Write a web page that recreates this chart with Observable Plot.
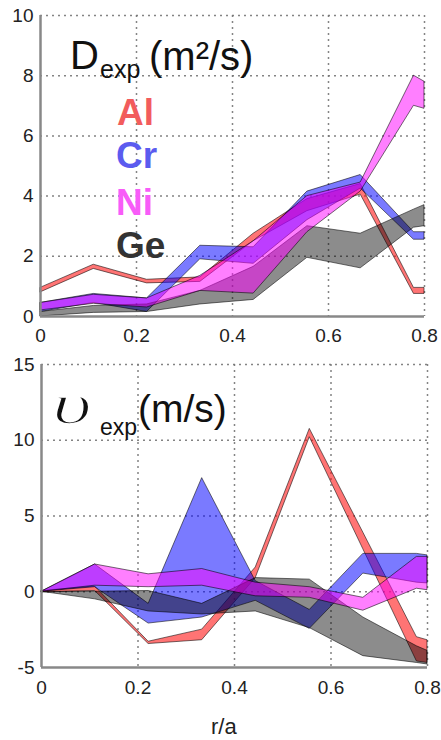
<!DOCTYPE html>
<html><head><meta charset="utf-8">
<script src="https://cdn.jsdelivr.net/npm/d3@7"></script>
<script src="https://cdn.jsdelivr.net/npm/@observablehq/plot@0.6"></script>
<style>
body{margin:0;background:#fff;}
#wrap{position:relative;width:441px;height:740px;overflow:hidden;font-family:"Liberation Sans",Arial,sans-serif;background:#fff;}
#top,#bot{position:absolute;left:0;}
#top{top:0}
#bot{top:348px}
.lab{position:absolute;white-space:nowrap;line-height:1;}
.leg{font-weight:bold;font-size:37px;}
</style></head><body>
<div id="wrap">
<div id="top"></div><div id="bot"></div>
<div class="lab" style="left:70px;top:35px;font-size:40px;color:#111">D</div>
<div class="lab" style="left:100px;top:57px;font-size:25px;color:#111">exp</div>
<div class="lab" style="left:149px;top:36px;font-size:40px;color:#111">(m²/s)</div>
<div class="lab leg" style="left:117px;top:94px;color:#f25c5c">Al</div>
<div class="lab leg" style="left:116px;top:137px;color:#5b5bef">Cr</div>
<div class="lab leg" style="left:116px;top:184px;color:#f85cf8">Ni</div>
<div class="lab leg" style="left:116px;top:227px;color:#333">Ge</div>
<div class="lab" style="left:52px;top:376px;font-size:56px;font-family:'Liberation Serif',serif;font-style:italic;color:#111;-webkit-text-stroke:1.6px #fff;transform:scaleX(1.55);transform-origin:left">υ</div>
<div class="lab" style="left:100px;top:416px;font-size:23px;color:#111">exp</div>
<div class="lab" style="left:138px;top:389px;font-size:39px;color:#111">(m/s)</div>
<div class="lab" style="left:211px;top:716px;font-size:22px;color:#222">r/a</div>
</div>
<script>
// radial positions r/a
const r = [0, 0.111, 0.222, 0.333, 0.444, 0.556, 0.667, 0.778, 0.8];
const elements = ["Al", "Cr", "Ni", "Ge"];

// D_exp (m^2/s) bands: lower / upper
const alDlo = [0.8, 1.58, 1.1, 1.15, 2.5, 3.5, 4.05, 0.75, 0.75];
const alDhi = [0.95, 1.72, 1.22, 1.3, 2.75, 3.9, 4.4, 0.95, 0.95];
const crDlo = [0.15, 0.45, 0.15, 1.9, 1.75, 3.2, 4.25, 2.55, 2.55];
const crDhi = [0.45, 0.75, 0.6, 2.35, 2.3, 4.15, 4.7, 2.8, 2.8];
const niDlo = [0.2, 0.42, 0.3, 0.85, 0.76, 2.8, 4.15, 7.0, 6.9];
const niDhi = [0.45, 0.72, 0.6, 1.35, 2.5, 4.0, 4.45, 8.0, 7.8];
const geDlo = [0.0, 0.12, 0.15, 0.4, 0.55, 1.95, 1.6, 2.95, 3.0];
const geDhi = [0.15, 0.35, 0.4, 0.85, 1.65, 3.0, 2.75, 3.55, 3.7];

// v_exp (m/s) bands: lower / upper
const alVlo = [-0.05, 0.05, -3.45, -3.2, 0.9, 10.2, 2.8, -4.6, -4.7];
const alVhi = [0.05, 0.35, -3.3, -2.5, 1.6, 10.75, 3.9, -3.0, -3.2];
const crVlo = [0, 0.3, -2.1, -1.7, -0.6, -2.45, 1.2, 0.6, 0.55];
const crVhi = [0, 1.8, -0.8, 7.5, 0.7, -1.2, 2.5, 2.5, 2.4];
const niVlo = [0, 0.4, 0.3, 0.4, -0.3, -0.4, -1.25, 0.2, 0.1];
const niVhi = [0, 1.8, 1.15, 1.5, 0.6, 0.3, -0.4, 2.3, 2.3];
const geVlo = [0, -0.5, -1.3, -1.5, -1.3, -2.4, -4.25, -4.7, -4.8];
const geVhi = [0, 0.0, 0.05, -0.8, 0.9, 0.8, -1.7, -3.6, -3.9];

// ticks
const xTicks = [0, 0.2, 0.4, 0.6, 0.8];
const dTicks = [0, 2, 4, 6, 8, 10];
const vTicks = [-5, 0, 5, 10, 15];

const colors = {Al: "#ff1010", Cr: "#0000ff", Ni: "#ff00ff", Ge: "#000000"};
const opac = {Al: 0.58, Cr: 0.52, Ni: 0.5, Ge: 0.45};
const drawOrder = ["Al", "Cr", "Ge", "Ni"];

function rows(lo, hi) { return r.map((x, i) => ({r: x, lo: lo[i], hi: hi[i]})); }
const Dbands = {Al: rows(alDlo, alDhi), Cr: rows(crDlo, crDhi), Ni: rows(niDlo, niDhi), Ge: rows(geDlo, geDhi)};
const Vbands = {Al: rows(alVlo, alVhi), Cr: rows(crVlo, crVhi), Ni: rows(niVlo, niVhi), Ge: rows(geVlo, geVhi)};

function bandMarks(b) {
  return drawOrder.map(el => Plot.areaY(b[el], {
    x: "r", y1: "lo", y2: "hi", fill: colors[el], fillOpacity: opac[el],
    stroke: "#000", strokeOpacity: 0.55, strokeWidth: 1
  }));
}
const fmt = d => String(d);
const font = {fontFamily: "'Liberation Sans', Arial, sans-serif", background: "white", overflow: "visible"};

const topPlot = Plot.plot({
  width: 441, height: 348,
  marginLeft: 40, marginRight: 17, marginTop: 15, marginBottom: 32,
  style: font,
  x: {domain: [0, 0.8]},
  y: {domain: [0, 10]},
  marks: [
    Plot.gridX(xTicks.slice(1), {stroke: "#777", strokeOpacity: 0.9, strokeWidth: 1.5, strokeDasharray: "2,4"}),
    Plot.gridY(dTicks.slice(1), {stroke: "#777", strokeOpacity: 0.9, strokeWidth: 1.5, strokeDasharray: "2,4"}),
    ...bandMarks(Dbands),
    Plot.ruleX([0], {stroke: "#888", strokeWidth: 2.5}),
    Plot.ruleY([0], {stroke: "#888", strokeWidth: 2.5}),
    Plot.axisX({ticks: xTicks, tickFormat: fmt, tickSize: 0, tickPadding: 12, fontSize: 19, fill: "#222", label: null}),
    Plot.axisY({ticks: dTicks, tickFormat: fmt, tickSize: 0, tickPadding: 7, fontSize: 19, fill: "#222", label: null})
  ]
});
document.getElementById("top").appendChild(topPlot);

const botPlot = Plot.plot({
  width: 441, height: 392,
  marginLeft: 41, marginRight: 14, marginTop: 16, marginBottom: 73,
  style: font,
  x: {domain: [0, 0.8]},
  y: {domain: [-5, 15]},
  marks: [
    Plot.gridX(xTicks.slice(1), {stroke: "#777", strokeOpacity: 0.9, strokeWidth: 1.5, strokeDasharray: "2,4"}),
    Plot.gridY(vTicks.slice(1), {stroke: "#777", strokeOpacity: 0.9, strokeWidth: 1.5, strokeDasharray: "2,4"}),
    ...bandMarks(Vbands),
    Plot.ruleX([0], {stroke: "#888", strokeWidth: 2.5}),
    Plot.ruleY([-5], {stroke: "#888", strokeWidth: 2.5}),
    Plot.axisX({ticks: xTicks, tickFormat: fmt, tickSize: 0, tickPadding: 13, fontSize: 19, fill: "#222", label: null}),
    Plot.axisY({ticks: vTicks, tickFormat: fmt, tickSize: 0, tickPadding: 7, fontSize: 19, fill: "#222", label: null})
  ]
});
document.getElementById("bot").appendChild(botPlot);
</script>
</body></html>
